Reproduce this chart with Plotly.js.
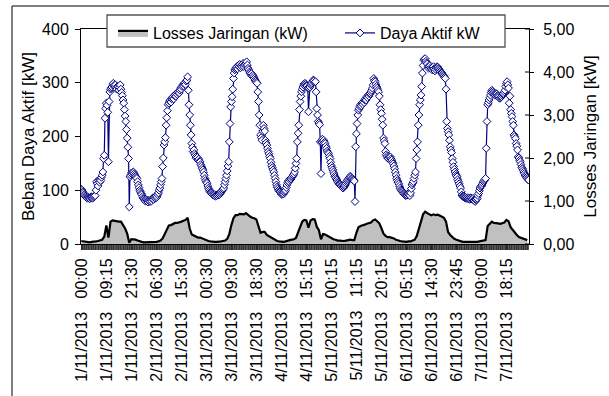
<!DOCTYPE html>
<html><head><meta charset="utf-8">
<script src="https://cdn.plot.ly/plotly-3.0.1.min.js"></script>
<style>html,body{margin:0;padding:0;background:#fff}#chart{width:609px;height:396px}</style>
</head><body><div id="chart"></div>
<script>
const tickDates = ['1/11/2013','1/11/2013','1/11/2013','2/11/2013','2/11/2013','3/11/2013','3/11/2013','3/11/2013','4/11/2013','4/11/2013','5/11/2013','5/11/2013','5/11/2013','6/11/2013','6/11/2013','6/11/2013','7/11/2013','7/11/2013'];
const tickTimes = ['00:00','09:15','21:30','06:30','15:30','00:30','09:30','18:30','03:30','15:15','00:15','11:15','20:15','05:15','14:30','23:45','09:00','18:15'];
const tickEvery = 36;

const dayaAktif = [
102,100,97,95,92,90,88,87,86,85,87,86,84,86,88,87,85,86,88,89,90,100,116,112,108,118,115,120,118,124,128,134,159,165,234,252,
262,258,245,153,265,283,288,290,292,296,299,295,292,296,290,288,293,292,286,291,296,288,282,276,268,262,250,238,228,213,197,180,159,69,125,128,
132,130,133,134,131,128,126,124,122,116,110,105,100,97,94,92,88,85,84,82,80,83,82,80,78,81,80,79,82,80,84,86,83,87,85,89,
86,88,92,95,100,104,110,116,122,144,160,184,190,198,221,235,248,259,262,266,268,264,270,272,274,270,276,278,275,280,278,282,284,281,286,290,
288,293,296,294,298,300,297,303,305,311,286,259,240,221,203,187,180,172,175,168,165,162,159,161,156,158,154,153,148,145,141,138,134,128,122,118,
115,113,108,104,101,98,96,95,94,92,91,90,92,89,91,90,92,91,93,92,94,96,98,100,102,104,110,116,122,128,136,145,153,190,224,255,
265,274,288,308,318,324,326,328,330,326,332,330,334,328,332,330,334,336,330,333,335,337,339,333,327,324,320,318,315,317,312,314,311,308,305,303,
301,299,283,265,240,221,203,198,193,210,221,215,210,193,188,184,178,172,168,163,159,152,146,142,138,134,128,122,116,110,106,103,100,98,97,95,
93,92,94,93,96,98,100,105,110,114,117,116,120,122,121,124,126,128,130,134,141,150,159,190,206,221,250,265,275,283,288,292,296,298,299,297,
295,294,290,246,290,292,296,298,300,303,305,304,301,302,283,252,240,228,225,222,190,131,190,195,191,193,189,187,182,178,173,170,168,163,159,152,
146,142,138,134,130,126,124,121,119,116,114,112,111,110,108,107,105,104,106,108,110,113,116,118,120,122,124,126,124,121,122,120,119,117,79,181,
205,224,240,249,252,256,259,257,262,260,265,263,268,270,268,274,272,277,275,279,280,283,286,290,296,308,304,302,297,293,290,286,283,275,259,250,
243,232,221,197,192,187,172,166,163,160,159,163,161,162,158,156,152,149,145,140,134,128,122,118,115,112,108,104,101,99,98,96,94,93,92,90,
91,91,93,94,92,90,95,103,110,113,116,122,128,134,159,175,190,221,240,259,268,277,293,318,332,342,344,345,340,337,335,330,327,330,332,328,
326,324,327,330,326,322,325,328,330,329,327,325,323,321,319,318,316,314,312,310,308,288,228,215,209,203,193,181,175,170,159,152,144,139,134,130,
127,125,120,116,112,108,104,97,91,89,88,87,86,87,85,85,86,84,85,83,84,86,84,83,85,82,81,79,82,83,85,90,94,99,104,107,
108,110,113,116,118,120,122,178,228,259,263,268,272,277,282,286,284,282,280,278,277,280,279,276,275,274,271,272,273,274,277,279,280,283,286,293,
298,302,296,290,262,275,250,243,237,228,221,203,200,196,187,182,175,162,160,156,153,148,143,140,137,134,131,128,126,124,122,120,119
];

const lossStep = 3;
const lossesJaringan = [
0.07,0.06,0.05,0.05,0.04,0.05,0.05,0.06,0.07,0.09,0.10,0.17,
0.43,0.15,0.52,0.55,0.54,0.52,0.52,0.52,0.45,0.36,0.24,0.03,
0.11,0.11,0.10,0.08,0.06,0.05,0.04,0.04,0.04,0.04,0.04,0.05,
0.05,0.06,0.08,0.13,0.23,0.35,0.43,0.44,0.47,0.49,0.49,0.50,
0.52,0.54,0.56,0.61,0.36,0.22,0.19,0.17,0.15,0.15,0.13,0.10,
0.08,0.07,0.06,0.05,0.05,0.05,0.05,0.06,0.07,0.08,0.12,0.23,
0.44,0.60,0.67,0.67,0.70,0.69,0.69,0.72,0.67,0.64,0.61,0.60,
0.57,0.44,0.26,0.28,0.28,0.21,0.18,0.15,0.12,0.09,0.07,0.06,
0.05,0.05,0.06,0.08,0.09,0.10,0.11,0.14,0.27,0.44,0.52,0.56,
0.55,0.38,0.55,0.58,0.57,0.40,0.32,0.11,0.23,0.22,0.19,0.17,
0.13,0.11,0.10,0.08,0.08,0.07,0.07,0.08,0.09,0.10,0.09,0.09,
0.26,0.39,0.42,0.43,0.45,0.47,0.48,0.50,0.55,0.57,0.53,0.48,
0.37,0.24,0.19,0.16,0.16,0.15,0.13,0.10,0.08,0.07,0.06,0.05,
0.05,0.06,0.06,0.08,0.10,0.19,0.36,0.48,0.69,0.75,0.71,0.69,
0.67,0.69,0.67,0.68,0.66,0.64,0.61,0.52,0.28,0.21,0.16,0.12,
0.10,0.08,0.07,0.05,0.05,0.05,0.05,0.05,0.05,0.04,0.05,0.06,
0.07,0.08,0.09,0.42,0.47,0.52,0.49,0.49,0.48,0.47,0.48,0.50,
0.56,0.53,0.39,0.33,0.25,0.21,0.16,0.14,0.12,0.10,0.09
];

const y1Ticks = [0,100,200,300,400];
const y2Ticks = [0,1,2,3,4,5];

const xDaya = dayaAktif.map((_, i) => i);
const xLoss = lossesJaringan.map((_, i) => i * lossStep);
const tickVals = tickDates.map((_, i) => i * tickEvery);
const tickText = tickDates.map((d, i) => d + '\u00a0\u00a0\u00a0' + tickTimes[i]);
const xRange = [-0.5, dayaAktif.length - 0.5];

const FONT = 'Arial, "Liberation Sans", sans-serif';
const W = 609, H = 396, ML = 81, MR = 80, MT = 29, MB = 152;
const pw = W - ML - MR, ph = H - MT - MB;
const px = v => (v - ML) / pw;
const py = v => (H - MB - v) / ph;

const traces = [
  {
    name: 'Losses Jaringan (kW)', x: xLoss, y: lossesJaringan, yaxis: 'y2', legend: 'legend',
    type: 'scatter', mode: 'lines', fill: 'tozeroy', fillcolor: '#c0c0c0',
    line: {color: '#000000', width: 2.2}, hoverinfo: 'skip'
  },
  {
    name: 'Daya Aktif kW', x: xDaya, y: dayaAktif, yaxis: 'y', legend: 'legend2',
    type: 'scatter', mode: 'lines+markers',
    line: {color: '#000080', width: 1.2},
    marker: {symbol: 'diamond', size: 6, color: '#ffffff', line: {color: '#000080', width: 1}}
  },
  {
    x: [], y: [], xaxis: 'x2', yaxis: 'y', type: 'scatter', mode: 'markers', showlegend: false, hoverinfo: 'skip'
  }
];

const shapes = [
  {type: 'rect', xref: 'paper', yref: 'paper', x0: px(12), x1: px(640), y0: py(6), y1: py(440),
   line: {color: '#000', width: 1}, fillcolor: 'rgba(0,0,0,0)', layer: 'below'},
  {type: 'rect', xref: 'paper', yref: 'paper', x0: px(107), x1: px(505), y0: py(15), y1: py(47),
   line: {color: '#555', width: 1.3}, fillcolor: '#ffffff', layer: 'above'}
].concat(y2Ticks.map(v => ({type: 'line', xref: 'paper', yref: 'y2', x0: 1 - 4 / pw, x1: 1, y0: v, y1: v,
   line: {color: '#000', width: 1}})));

const legendBase = {orientation: 'h', xanchor: 'left', yanchor: 'top',
  bgcolor: 'rgba(0,0,0,0)', borderwidth: 0, font: {family: FONT, size: 16, color: '#000'}};

const layout = {
  width: W, height: H, margin: {l: ML, r: MR, t: MT, b: MB, pad: 0},
  paper_bgcolor: '#ffffff', plot_bgcolor: '#ffffff',
  font: {family: FONT, size: 16, color: '#000'},
  separators: ',.',
  showlegend: true,
  legend: Object.assign({}, legendBase, {x: px(113), y: py(16)}),
  legend2: Object.assign({}, legendBase, {x: px(340), y: py(16)}),
  xaxis: {
    range: xRange, tickmode: 'array', tickvals: tickVals, ticktext: tickText,
    tickangle: -90, ticks: 'outside', ticklen: 5, tickcolor: '#000', tickwidth: 1,
    showline: true, linecolor: '#000', linewidth: 1, mirror: true,
    showgrid: false, zeroline: false, ticklabelstandoff: 2,
    tickfont: {family: FONT, size: 16, color: '#000'}
  },
  xaxis2: {
    overlaying: 'x', anchor: 'y', side: 'bottom', range: xRange, tickmode: 'linear', tick0: 0, dtick: 1,
    ticks: 'outside', ticklen: 5, tickcolor: '#2a2a2a', tickwidth: 0.8, showticklabels: false,
    showline: false, showgrid: false, zeroline: false
  },
  yaxis: {
    range: [0, 400], tickmode: 'array', tickvals: y1Ticks, ticks: 'outside', ticklen: 5, tickcolor: '#000',
    showline: true, linecolor: '#000', linewidth: 1, showgrid: false, zeroline: false,
    ticklabelstandoff: 3, tickfont: {family: FONT, size: 16, color: '#000'},
    title: {text: 'Beban Daya Aktif [kW]', font: {family: FONT, size: 17, color: '#000'}, standoff: 3}
  },
  yaxis2: {
    overlaying: 'y', side: 'right', range: [0, 5], tickmode: 'array', tickvals: y2Ticks, tickformat: '.2f',
    ticks: 'outside', ticklen: 4, tickcolor: '#000',
    showline: true, linecolor: '#000', linewidth: 1, showgrid: false, zeroline: false,
    ticklabelstandoff: 6, tickfont: {family: FONT, size: 16, color: '#000'},
    title: {text: 'Losses Jaringan [kW]', font: {family: FONT, size: 17, color: '#000'}, standoff: 10}
  },
  shapes: shapes
};

Plotly.newPlot('chart', traces, layout, {displayModeBar: false, staticPlot: true});
</script>
</body></html>
